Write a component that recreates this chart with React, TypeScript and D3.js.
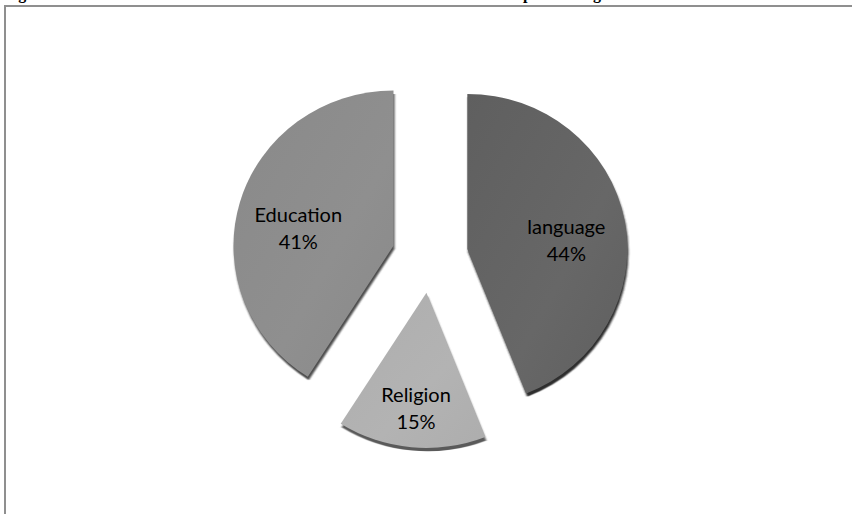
import React from "react";
import * as d3 from "d3";

const categories = ["language", "Religion", "Education"];
const values = [44, 15, 41];
const sliceColors = ["#5f5f5f", "#adadad", "#898989"];
const sliceLight = ["#676767", "#b3b3b3", "#8f8f8f"];
const rimColors = ["#2e2e2e", "#5a5a5a", "#4e4e4e"];

const W = 853;
const H = 514;

export default function App() {
  const cx = 430;
  const cy = 256;
  const r = 160;
  const yScale = 0.97;
  const explode = 38;

  const pie = d3.pie<number>().sort(null).value((d) => d)(values);
  const arc = d3.arc<d3.PieArcDatum<number>>().innerRadius(0).outerRadius(r);
  const labelR = [0.63, 0.69, 0.62];

  return (
    <svg
      width={W}
      height={H}
      style={{ position: "absolute", left: 0, top: 0, background: "#fff" }}
    >
      <defs>
        {values.map((_, i) => (
          <linearGradient key={i} id={`g${i}`} x1="0" y1="0" x2="1" y2="1">
            <stop offset="0" stopColor={sliceColors[i]} />
            <stop offset="0.6" stopColor={sliceLight[i]} />
            <stop offset="1" stopColor={sliceColors[i]} />
          </linearGradient>
        ))}
        <filter id="blur" x="-10%" y="-10%" width="120%" height="120%">
          <feGaussianBlur stdDeviation="0.8" />
        </filter>
      </defs>
      <g fontFamily="'Times New Roman', 'Liberation Serif', serif" fontWeight="bold" fontSize="16">
        <text x={4} y={-1}>Fig</text>
        <text x={523} y={-1}>p</text>
        <text x={593} y={-1}>g</text>
      </g>
      <path
        d={`M5,${H + 2} L5,6 L852,6`}
        fill="none"
        stroke="#8f8f8f"
        strokeWidth={2}
      />
      <g transform={`translate(${cx},${cy}) scale(1,${yScale})`}>
        {pie.map((p, i) => {
          const mid = (p.startAngle + p.endAngle) / 2;
          const dx = Math.sin(mid) * explode;
          const dy = -Math.cos(mid) * explode;
          return (
            <g key={i} transform={`translate(${dx},${dy})`}>
              <path
                d={arc(p) || ""}
                fill={rimColors[i]}
                transform="translate(1,3.5)"
                filter="url(#blur)"
              />
              <path d={arc(p) || ""} fill={`url(#g${i})`} />
            </g>
          );
        })}
      </g>
      <g fontFamily="Lato, 'Open Sans', sans-serif" fontSize="20" fill="#000" textAnchor="middle">
        {pie.map((p, i) => {
          const mid = (p.startAngle + p.endAngle) / 2;
          const dx = Math.sin(mid) * explode;
          const dy = -Math.cos(mid) * explode;
          const lr = r * labelR[i];
          const lx = cx + dx + Math.sin(mid) * lr;
          const ly = cy + (dy - Math.cos(mid) * lr) * yScale;
          return (
            <g key={i}>
              <text x={lx} y={ly + 3}>{categories[i]}</text>
              <text x={lx} y={ly + 30}>{values[i]}%</text>
            </g>
          );
        })}
      </g>
    </svg>
  );
}
